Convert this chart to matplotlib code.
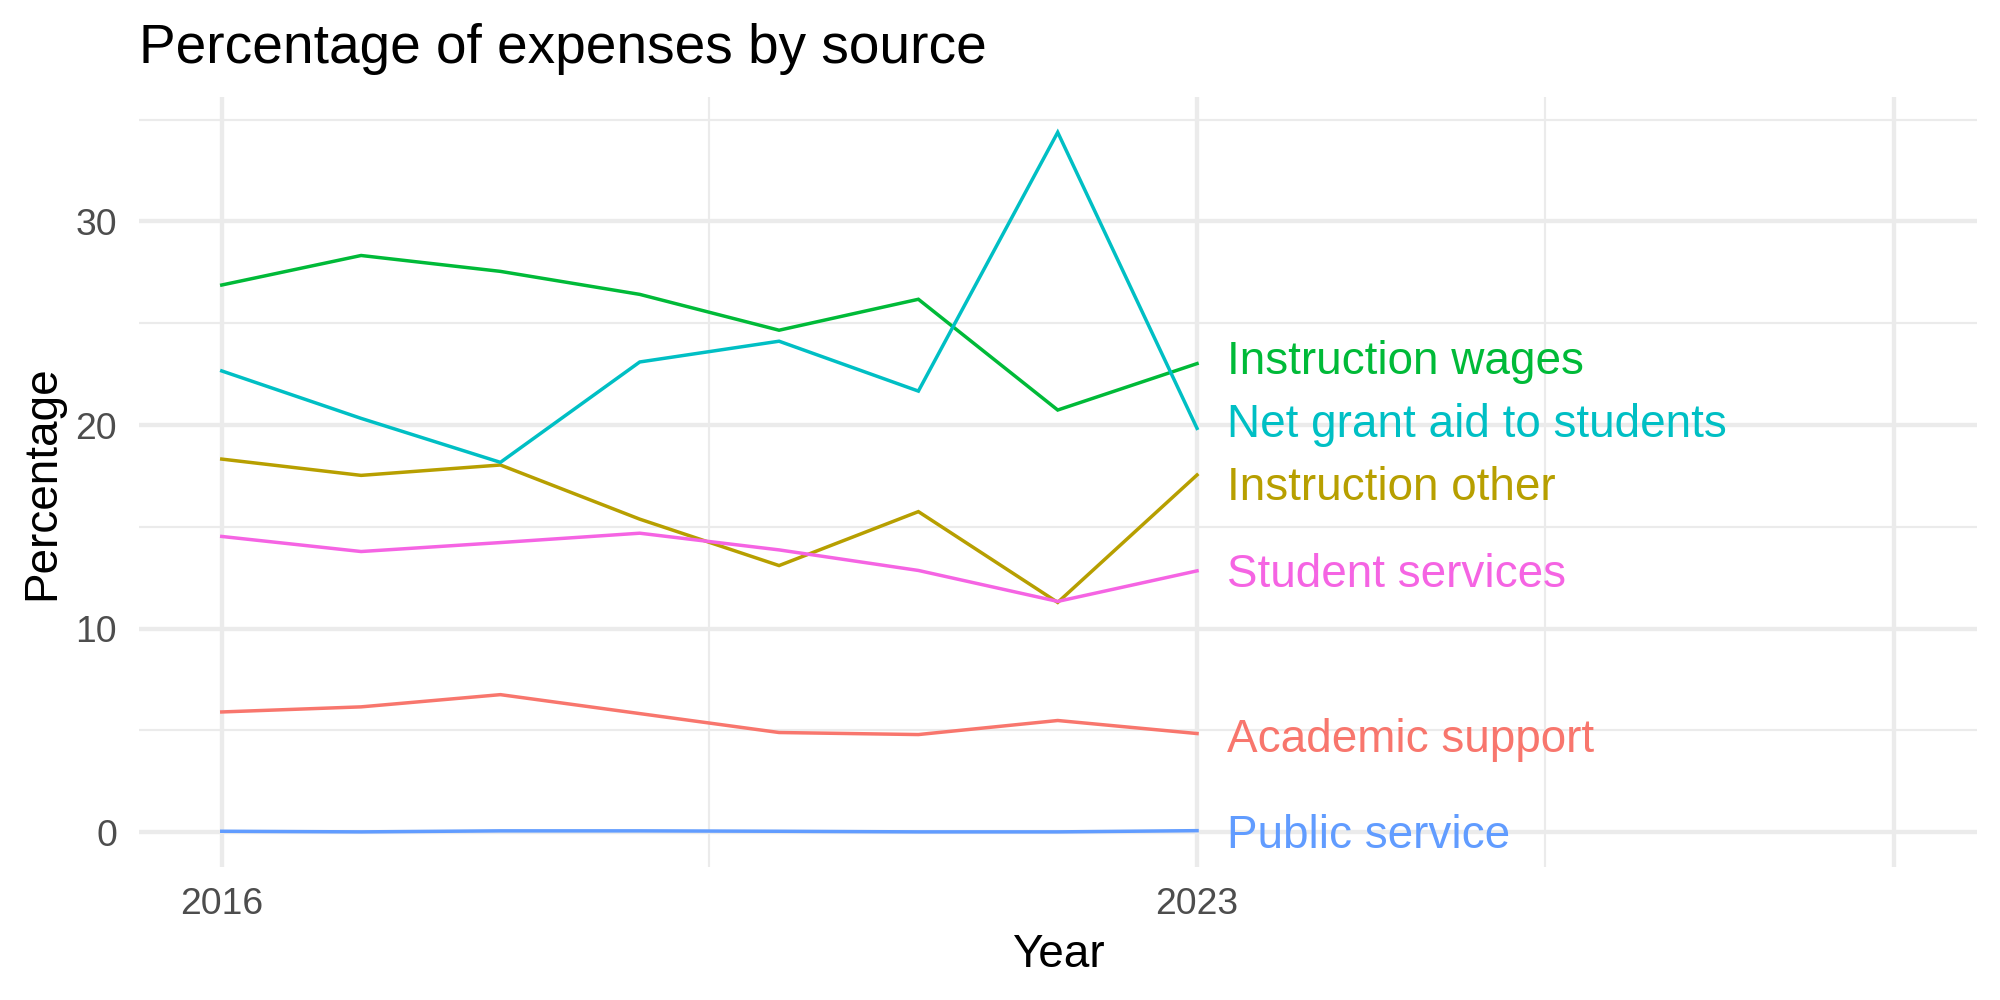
import matplotlib
matplotlib.use("Agg")
import matplotlib.pyplot as plt
from matplotlib.transforms import offset_copy

plt.rcParams['font.family'] = ['Liberation Sans', 'DejaVu Sans']

years = [2016, 2017, 2018, 2019, 2020, 2021, 2022, 2023]

series = ["Academic support", "Instruction other", "Instruction wages",
          "Net grant aid to students", "Public service", "Student services"]
academic_support = [5.91, 6.16, 6.76, 5.83, 4.90, 4.80, 5.49, 4.85]
instruction_other = [18.33, 17.53, 18.04, 15.38, 13.10, 15.75, 11.29, 17.55]
instruction_wages = [26.88, 28.33, 27.55, 26.42, 24.66, 26.18, 20.74, 23.02]
net_grant_aid = [22.66, 20.33, 18.17, 23.10, 24.12, 21.67, 34.38, 19.84]
public_service = [0.05, 0.02, 0.07, 0.07, 0.05, 0.02, 0.02, 0.08]
student_services = [14.53, 13.79, 14.23, 14.69, 13.87, 12.86, 11.34, 12.84]
values = [academic_support, instruction_other, instruction_wages,
          net_grant_aid, public_service, student_services]

# label heights after repel
label_y = [4.77, 17.12, 23.33, 20.24, 0.05, 12.85]

colors = ['#F8766D', '#B79F00', '#00BA38', '#00BFC4', '#619CFF', '#F564E3']

x_major = [2016, 2023, 2028]
x_major_labels = ["2016", "2023", ""]
x_minor = [2019.5, 2025.5]
y_major = [0, 10, 20, 30]
y_minor = [5, 15, 25, 35]

fig = plt.figure(figsize=(10, 5), dpi=200)
ax = fig.add_axes([0.0695, 0.1327, 0.98835 - 0.0695, 0.9027 - 0.1327])

for name, vals, col in zip(series, values, colors):
    ax.plot(years, vals, color=col, lw=1.25, solid_joinstyle='miter', zorder=3)

# direct labels at the last year
lab_size = 16.5
trans = offset_copy(ax.transData, fig=fig, y=-0.729 * lab_size / 2, units='points')
for name, ly, col in zip(series, label_y, colors):
    ax.text(years[-1] + 0.212, ly, name, color=col, fontsize=lab_size,
            ha='left', va='baseline', transform=trans, zorder=4)

ax.set_xlim(2015.406, 2028.596)
ax.set_ylim(-1.72, 36.10)

ax.set_xticks(x_major)
ax.set_xticklabels(x_major_labels)
ax.set_xticks(x_minor, minor=True)
ax.set_yticks(y_major)
ax.set_yticks(y_minor, minor=True)

ax.grid(which='major', color='#EBEBEB', lw=1.55, zorder=0)
ax.grid(which='minor', color='#EBEBEB', lw=0.78, zorder=0)
ax.set_axisbelow(True)

ax.tick_params(which='both', length=0)
ax.tick_params(axis='x', pad=7.2, labelsize=13.4, labelcolor='#4D4D4D')
ax.tick_params(axis='y', pad=7.9, labelsize=13.4, labelcolor='#4D4D4D')
for s in ax.spines.values():
    s.set_visible(False)

fig.text(0.0695, 0.9373, "Percentage of expenses by source", fontsize=19.8,
         ha='left', va='baseline', color='black')
fig.text((0.0695 + 0.98835) / 2, 0.0333, "Year", fontsize=16.5,
         ha='center', va='baseline', color='black')
fig.text(0.021, (0.1327 + 0.9027) / 2, "Percentage", fontsize=16.5, rotation=90,
         ha='center', va='center', color='black')

fig.savefig("out.png", dpi=200)
